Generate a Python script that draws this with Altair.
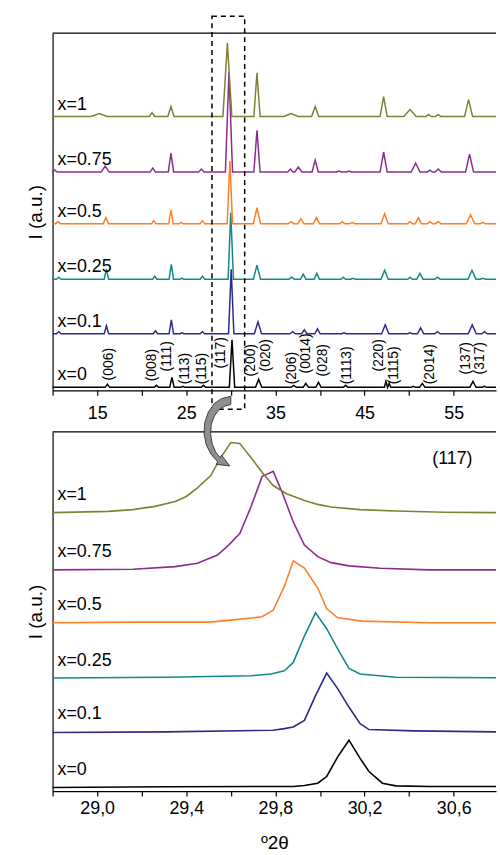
import altair as alt
import pandas as pd

FONT = "Liberation Sans"

series = ["x=0", "x=0.1", "x=0.25", "x=0.5", "x=0.75", "x=1"]
colors = ["#000000", "#2d2a8c", "#15898a", "#ff7f27", "#8b2c8f", "#7f8033"]

# ---------------- top panel: full patterns (stacked) ----------------
top_offsets = [3, 57, 112, 168, 220, 276]
top_pos = [
    [16.15, 21.65, 23.39, 24.61, 26.92, 30.13, 33.12, 37.05, 38.41, 39.83, 42.87, 47.40, 47.76, 50.48, 51.48, 57.16, 58.45],
    [10.70, 16.04, 21.54, 23.32, 24.50, 26.81, 30.04, 33.04, 36.93, 38.24, 39.72, 42.69, 47.32, 50.10, 51.29, 53.18, 57.08, 58.45],
    [10.70, 16.04, 21.46, 23.32, 24.50, 26.81, 29.99, 32.93, 36.82, 38.12, 39.64, 42.61, 43.72, 47.25, 50.10, 51.21, 53.18, 57.05, 58.27],
    [10.59, 15.98, 21.35, 23.28, 24.43, 26.81, 29.89, 32.93, 36.75, 37.86, 39.60, 42.50, 43.61, 47.25, 50.10, 51.04, 52.33, 53.26, 56.89, 58.27],
    [10.22, 15.90, 21.24, 23.28, 26.69, 29.79, 32.93, 36.68, 37.57, 39.46, 42.13, 43.24, 47.14, 50.73, 52.33, 53.26, 56.78],
    [15.23, 21.16, 23.28, 29.61, 32.93, 36.75, 39.46, 47.14, 50.10, 52.18, 53.26, 56.67],
]
top_int = [
    [3, 2, 10, 1, 2, 48, 8, 2, 4, 5, 2, 6, 4, 1, 4, 6, 1],
    [2, 8, 3, 14, 1, 2, 65, 12, 2, 4, 5, 1, 9, 1, 6, 2, 9, 2],
    [2, 10, 3, 15, 1, 3, 67, 14, 2, 5, 6, 2, 1, 9, 2, 6, 2, 9, 1],
    [2, 6, 3, 14, 1, 3, 63, 16, 2, 5, 6, 2, 1, 10, 2, 6, 2, 2, 9, 1],
    [2, 6, 4, 19, 3, 101, 42, 3, 5, 12, 1, 1, 20, 9, 2, 3, 18],
    [3, 4, 10, 74, 44, 3, 10, 20, 7, 2, 2, 17],
]
top_hw = [
    [0.25, 0.25, 0.25, 0.2, 0.25, 0.3, 0.35, 0.3, 0.3, 0.3, 0.25, 0.18, 0.18, 0.25, 0.3, 0.35, 0.25],
    [0.25, 0.25, 0.25, 0.25, 0.2, 0.25, 0.3, 0.4, 0.3, 0.3, 0.3, 0.25, 0.4, 0.25, 0.35, 0.3, 0.45, 0.3],
    [0.25, 0.25, 0.25, 0.25, 0.2, 0.25, 0.3, 0.4, 0.3, 0.3, 0.3, 0.25, 0.25, 0.4, 0.25, 0.35, 0.3, 0.45, 0.3],
    [0.25, 0.3, 0.25, 0.25, 0.2, 0.25, 0.3, 0.4, 0.3, 0.35, 0.35, 0.25, 0.25, 0.4, 0.25, 0.35, 0.3, 0.3, 0.45, 0.3],
    [0.3, 0.45, 0.3, 0.3, 0.3, 0.4, 0.35, 0.3, 0.4, 0.35, 0.25, 0.25, 0.4, 0.5, 0.3, 0.35, 0.45],
    [0.9, 0.3, 0.35, 0.5, 0.35, 0.8, 0.4, 0.4, 0.7, 0.3, 0.3, 0.45],
]
top_range = [10, 59.75]

miller_labels = ["(006)", "(008)", "(111)", "(113)", "(115)", "(117)", "(200)", "(020)", "(206)",
                 "(0014)", "(028)", "(1113)", "(220)", "(1115)", "(2014)", "(137)", "(317)"]
miller_x = [16.38, 21.13, 22.80, 24.84, 26.77, 28.92, 32.26, 33.93, 36.82,
            38.44, 40.33, 43.06, 46.67, 48.34, 52.40, 56.41, 57.97]
miller_y = [10, 9, 19, 6, 6, 22, 14, 19, 6, 17, 14, 6, 19, 6, 6, 16, 16]

zoom_box = [27.88, 31.55]

# ---------------- bottom panel: (117) reflection ----------------
bot_x = [
    [28.80, 29.31, 29.88, 29.93, 29.99, 30.03, 30.08, 30.13, 30.18, 30.22, 30.28, 30.34, 30.49, 30.79],
    [28.80, 29.31, 29.79, 29.84, 29.88, 29.93, 29.98, 30.03, 30.08, 30.13, 30.18, 30.22, 30.42, 30.79],
    [28.80, 29.31, 29.69, 29.78, 29.84, 29.88, 29.93, 29.98, 30.03, 30.08, 30.13, 30.18, 30.34, 30.79],
    [28.80, 29.16, 29.50, 29.60, 29.74, 29.79, 29.84, 29.88, 29.93, 29.99, 30.03, 30.08, 30.19, 30.49, 30.79],
    [28.80, 29.16, 29.35, 29.45, 29.54, 29.59, 29.64, 29.69, 29.74, 29.79, 29.83, 29.88, 29.93, 29.99, 30.05, 30.13, 30.27, 30.49, 30.79],
    [28.80, 29.05, 29.16, 29.26, 29.35, 29.40, 29.45, 29.51, 29.55, 29.60, 29.64, 29.69, 29.74, 29.79, 29.85, 29.93, 29.99, 30.05, 30.18, 30.34, 30.56, 30.79],
]
bot_y = [
    [3.7, 4.3, 4.7, 5.7, 8, 14.7, 34.7, 51.3, 33, 19.7, 8, 5.3, 4.7, 4.7],
    [59, 59.7, 61.3, 63, 64.7, 71.3, 96.3, 119, 103, 84.7, 68, 62, 60.7, 59.7],
    [114, 114.7, 116.3, 118, 121.3, 129.7, 156.3, 179.7, 163.7, 143, 123.7, 118, 114.7, 114.3],
    [169.7, 170.3, 170.3, 172.3, 175.7, 182.3, 206.3, 232, 224.7, 204.7, 183.7, 174.7, 171.3, 169.7, 169.7],
    [223, 223.7, 226.3, 229.7, 238, 248, 259.7, 286.3, 317, 322.3, 301.3, 271.3, 248, 236.3, 230.3, 227, 224.7, 223, 223],
    [280.7, 282, 283.7, 287, 292, 297, 305.7, 318, 334.7, 351.3, 350.3, 336.3, 321.3, 308, 299.7, 293, 289, 286.3, 283.7, 282.3, 281, 280.7],
]
bot_offsets = [4, 60, 114, 170, 223, 281]
bot_range = [28.8, 30.79]

# ---------------- build tables ----------------
rows = []
for i, s in enumerate(series):
    off = top_offsets[i]
    pts = [(top_range[0], off), (top_range[1], off)]
    for c, h, w in zip(top_pos[i], top_int[i], top_hw[i]):
        pts += [(c - w, off), (c, off + h), (c + w, off)]
    pts.sort()
    for k, (x, y) in enumerate(pts):
        rows.append({"series": s, "k": k, "x": x, "y": y})
top_df = pd.DataFrame(rows)

top_lab = pd.DataFrame({"series": series, "x": [10.56] * 6, "y": [o + 12 for o in top_offsets]})
mil_df = pd.DataFrame({"t": miller_labels, "x": miller_x, "y": miller_y})
box_df = pd.DataFrame({"x": [zoom_box[0]], "x2": [zoom_box[1]]})
one = pd.DataFrame({"a": [0]})

brows = []
for i, s in enumerate(series):
    for k, (x, y) in enumerate(zip(bot_x[i], bot_y[i])):
        brows.append({"series": s, "k": k, "x": x, "y": y})
bot_df = pd.DataFrame(brows)
bot_lab = pd.DataFrame({"series": series, "x": [28.822] * 6, "y": [o + 17.5 for o in bot_offsets]})
peak_lab = pd.DataFrame({"t": ["(117)"], "x": [30.594], "y": [335]})

W = 447
color = alt.Color("series:N", scale=alt.Scale(domain=series, range=colors), legend=None)

yaxis = alt.Axis(title="I (a.u.)", labels=False, ticks=False, grid=False, domain=True,
                 titleFontSize=19, titleFont=FONT, titleFontWeight="normal", titleColor="black",
                 titlePadding=7, domainColor="black", domainWidth=1.2)

# ---------------- top chart ----------------
xs_top = alt.Scale(domain=top_range, nice=False, zero=False)
ys_top = alt.Scale(domain=[0, 360], nice=False, zero=False)
top_axis = alt.Axis(values=[10, 15, 20, 25, 30, 35, 40, 45, 50, 55], title=None, grid=False,
                    labelExpr="datum.value % 10 == 5 ? datum.label : ''", format="d",
                    labelPadding=9)

top_lines = alt.Chart(top_df).mark_line(strokeWidth=1.5).encode(
    x=alt.X("x:Q", scale=xs_top, axis=top_axis),
    y=alt.Y("y:Q", scale=ys_top, axis=yaxis),
    color=color, order="k:Q")
top_text = alt.Chart(top_lab).mark_text(align="left", baseline="middle", fontSize=18, font=FONT,
                                        color="black").encode(x="x:Q", y="y:Q", text="series:N")
mil_text = alt.Chart(mil_df).mark_text(align="left", baseline="middle", angle=270, fontSize=14,
                                       font=FONT, color="black").encode(x="x:Q", y="y:Q", text="t:N")
box = alt.Chart(box_df).mark_rect(fillOpacity=0, stroke="black", strokeDash=[5, 4],
                                  strokeWidth=1.5).encode(
    x="x:Q", x2="x2:Q", y=alt.value(-17), y2=alt.value(379))
top_border = alt.Chart(one).mark_rule(color="black", strokeWidth=1.2).encode(
    x=alt.value(0), x2=alt.value(W), y=alt.value(0))

top = alt.layer(top_lines, top_text, mil_text, box, top_border).properties(width=W, height=360)

# ---------------- bottom chart ----------------
xs_bot = alt.Scale(domain=bot_range, nice=False, zero=False)
ys_bot = alt.Scale(domain=[0, 362], nice=False, zero=False)
bot_axis = alt.Axis(values=[28.8, 29.0, 29.2, 29.4, 29.6, 29.8, 30.0, 30.2, 30.4, 30.6],
                    title="º2θ", grid=False, labelPadding=4, titlePadding=16,
                    labelExpr="round(datum.value*10) % 4 == 2 ? replace(format(datum.value, '.1f'), '.', ',') : ''")

bot_lines = alt.Chart(bot_df).mark_line(strokeWidth=1.6).encode(
    x=alt.X("x:Q", scale=xs_bot, axis=bot_axis),
    y=alt.Y("y:Q", scale=ys_bot, axis=yaxis),
    color=color, order="k:Q")
bot_text = alt.Chart(bot_lab).mark_text(align="left", baseline="middle", fontSize=18, font=FONT,
                                        color="black").encode(x="x:Q", y="y:Q", text="series:N")
peak_text = alt.Chart(peak_lab).mark_text(align="center", baseline="middle", fontSize=18, font=FONT,
                                          color="black").encode(x="x:Q", y="y:Q", text="t:N")

arrow_pts = [(0.369, -0.973), (0.117, -0.910), (-0.081, -0.775), (-0.243, -0.541), (-0.342, -0.252),
             (-0.360, 0.063), (-0.297, 0.360), (-0.171, 0.604), (0.009, 0.811), (-0.027, 0.883),
             (0.342, 0.928), (0.117, 0.631), (0.078, 0.703), (-0.045, 0.541), (-0.135, 0.333),
             (-0.180, 0.063), (-0.162, -0.207), (-0.081, -0.432), (0.054, -0.613), (0.207, -0.703),
             (0.369, -0.748)]
arrow_path = "M" + " L".join(f"{a:.3f},{b:.3f}" for a, b in arrow_pts) + " Z"
arrow = alt.Chart(one).mark_point(shape=arrow_path, size=5476, filled=True, color="#8f8f8f",
                                  stroke="#222222", strokeWidth=0.8, opacity=1).encode(
    x=alt.value(166), y=alt.value(0))
bot_border = alt.Chart(one).mark_rule(color="black", strokeWidth=1.2).encode(
    x=alt.value(0), x2=alt.value(W), y=alt.value(0))

bottom = alt.layer(bot_lines, bot_text, peak_text, bot_border, arrow).properties(width=W, height=362)

chart = alt.vconcat(top, bottom, spacing=42, bounds="flush").properties(
    padding={"left": 27, "top": 12, "right": 0, "bottom": 0}
).configure_view(stroke=None).configure_axis(
    labelFont=FONT, labelFontSize=18, labelColor="black", titleFont=FONT, titleFontSize=19,
    titleFontWeight="normal", titleColor="black", domainColor="black", domainWidth=1.2,
    tickColor="black", tickSize=5, tickWidth=1.2
)

chart.save("out.html", embed_options={"renderer": "svg", "actions": False})
